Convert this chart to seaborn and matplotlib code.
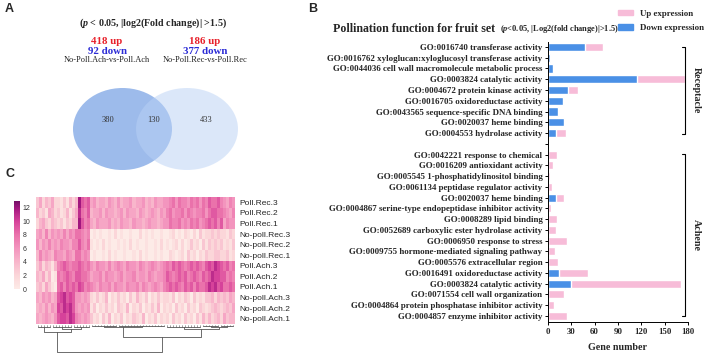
import numpy as np
import pandas as pd
import matplotlib
matplotlib.use("Agg")
import matplotlib.pyplot as plt
import seaborn as sns
from matplotlib.patches import Ellipse, Patch
from matplotlib.colors import LinearSegmentedColormap

# ---------------- Panel A data ----------------
venn_sets = ["No-Poll.Ach-vs-Poll.Ach", "No-Poll.Rec-vs-Poll.Rec"]
venn_up = [418, 186]
venn_down = [92, 377]
venn_counts = [380, 130, 433]  # only Ach, shared, only Rec

# ---------------- Panel B data ----------------
go_receptacle = [
    "GO:0016740 transferase activity",
    "GO:0016762 xyloglucan:xyloglucosyl transferase activity",
    "GO:0044036 cell wall macromolecule metabolic process",
    "GO:0003824 catalytic activity",
    "GO:0004672 protein kinase activity",
    "GO:0016705 oxidoreductase activity",
    "GO:0043565 sequence-specific DNA binding",
    "GO:0020037 heme binding",
    "GO:0004553 hydrolase activity",
]
down_receptacle = [47, 2, 6, 114, 26, 19, 13, 20, 10]
up_receptacle = [24, 1, 0, 62, 13, 1, 0, 2, 13]

go_achene = [
    "GO:0042221 response to chemical",
    "GO:0016209 antioxidant activity",
    "GO:0005545 1-phosphatidylinositol binding",
    "GO:0061134 peptidase regulator activity",
    "GO:0020037 heme binding",
    "GO:0004867 serine-type endopeptidase inhibitor activity",
    "GO:0008289 lipid binding",
    "GO:0052689 carboxylic ester hydrolase activity",
    "GO:0006950 response to stress",
    "GO:0009755 hormone-mediated signaling pathway",
    "GO:0005576 extracellular region",
    "GO:0016491 oxidoreductase activity",
    "GO:0003824 catalytic activity",
    "GO:0071554 cell wall organization",
    "GO:0004864 protein phosphatase inhibitor activity",
    "GO:0004857 enzyme inhibitor activity",
]
down_achene = [0, 0, 0, 0, 10, 0, 0, 0, 0, 0, 0, 14, 30, 0, 0, 0]
up_achene = [11, 7, 3, 5, 11, 4, 11, 10, 25, 9, 13, 38, 141, 20, 8, 24]
gene_ticks = [0, 30, 60, 90, 120, 150, 180]

# ---------------- Panel C data ----------------
samples = ["Poll.Rec.3", "Poll.Rec.2", "Poll.Rec.1",
           "No-poll.Rec.3", "No-poll.Rec.2", "No-poll.Rec.1",
           "Poll.Ach.3", "Poll.Ach.2", "Poll.Ach.1",
           "No-poll.Ach.3", "No-poll.Ach.2", "No-poll.Ach.1"]
# expression levels per gene column (hex digits, 0..c)
heat_rows = [
    "3524352" "213142" "4" "c989" "5645546546455645564546556" "67868776878687" "98897" "6576",
    "4231542" "312413" "5" "b879" "4556465545646554654565465" "78677868767786" "89988" "7657",
    "2453243" "231324" "4" "c978" "5465556454655465545655456" "68778676878678" "98979" "5766",
    "5647465" "657576" "8" "8767" "0101001020100100201010010" "01201021020312" "23232" "2132",
    "6465756" "576657" "7" "9768" "1010201001010201001001020" "10120201312031" "32323" "1213",
    "4756547" "665765" "8" "8676" "0100102010010010201001010" "02101203120213" "22332" "2312",
    "3524314" "789878" "8" "9878" "6576657567657665765676567" "87989878989879" "a9ba9" "8978",
    "4352401" "878987" "9" "9887" "5667576656756675665765667" "98789897898798" "9baa9" "9787",
    "3425310" "897989" "8" "a978" "7657667576657667576567657" "89898798979889" "bab9a" "8898",
    "5465645" "9ab9a9" "6" "6565" "2131240213120314213021312" "21302132031213" "34243" "4354",
    "4546465" "a9bab9" "6" "5656" "1302131203214021302131402" "12031203120321" "23432" "3435",
    "5456546" "9aa9ba" "7" "6565" "3120314021302132140213021" "20312031203142" "42342" "5344",
]
cbar_ticks = [0, 2, 4, 6, 8, 10, 12]
# column dendrogram: [height, left, right]; leaf groups (height, first_col, last_col)
col_tree = [26,
            [6.5, (2.2, 0, 4), [3.5, (1.5, 5, 11), (1.5, 12, 17)]],
            [11, [1.8, (1.0, 18, 26), (1.2, 27, 42)],
                 [4.2, (1.5, 43, 54), [2.2, (1.0, 55, 60), (0.8, 61, 65)]]]]

# ---------------- Styling ----------------
sns.set_style("ticks")
plt.rcParams["font.family"] = ["Liberation Serif", "DejaVu Serif"]
plt.rcParams["mathtext.fontset"] = "custom"
plt.rcParams["mathtext.it"] = "Liberation Serif:italic:bold"
plt.rcParams["mathtext.rm"] = "Liberation Serif:bold"
plt.rcParams["mathtext.bf"] = "Liberation Serif:bold"

W, H = 708, 356
PINK = "#f7bcd8"
BLUE = "#4a90e6"
SANS = ["Liberation Sans", "DejaVu Sans"]

fig = plt.figure(figsize=(W / 100, H / 100), dpi=100)


def px_axes(x0, y0, x1, y1):
    return fig.add_axes([x0 / W, 1 - y1 / H, (x1 - x0) / W, (y1 - y0) / H])


# ---------------- Panel A (pixel overlay) ----------------
ov = fig.add_axes([0, 0, 1, 1])
ov.set_xlim(0, W)
ov.set_ylim(H, 0)
ov.axis("off")
ov.patch.set_alpha(0)

ov.add_patch(Ellipse((122.5, 129), 99, 82, facecolor="#9dbbeb", edgecolor="none"))
ov.add_patch(Ellipse((187, 129), 102, 82, facecolor=(0.726, 0.82, 0.96), alpha=0.5,
                     edgecolor="none"))
for xx, val in zip([108, 154, 206], venn_counts):
    ov.text(xx, 120, str(val), ha="center", va="center", fontsize=6, color="#333333")

ov.text(5, 3, "A", ha="left", va="top", fontsize=9, fontweight="bold", family=SANS)
ov.text(308, 3, "B", ha="left", va="top", fontsize=9, fontweight="bold", family=SANS)
ov.text(5, 168, "C", ha="left", va="top", fontsize=9, fontweight="bold", family=SANS)

ov.text(153, 23, r"($p$ < 0.05, |log2(Fold change)| >1.5)", ha="center", va="center",
        fontsize=7.2, fontweight="bold")
for cx, lab, up, dn in zip([107, 205], venn_sets, venn_up, venn_down):
    ov.text(cx, 41, f"{up} up", ha="center", va="center", fontsize=7.8,
            fontweight="bold", color="#e8202a")
    ov.text(cx, 52, f"{dn} down", ha="center", va="center", fontsize=7.8,
            fontweight="bold", color="#2b2bd6")
    ov.text(cx, 60, lab, ha="center", va="center", fontsize=6, color="#222222")

# ---------------- Panel B ----------------
labels_B = go_receptacle + [""] + go_achene
down_B = down_receptacle + [0] + down_achene
up_B = up_receptacle + [0] + up_achene
n = len(labels_B)
dfB = pd.DataFrame({"key": [f"k{i}" for i in range(n)],
                    "down": down_B,
                    "total": np.add(down_B, up_B)})

axB = px_axes(548, 42, 688, 322)
sns.barplot(data=dfB, x="total", y="key", orient="h", color=PINK, saturation=1,
            width=0.75, errorbar=None, ax=axB)
sns.barplot(data=dfB, x="down", y="key", orient="h", color=BLUE, saturation=1,
            width=0.75, errorbar=None, ax=axB)
axB.set_xlim(0, 180)
axB.set_ylim(n - 1 + 0.56, -0.46)
axB.set_xticks(gene_ticks)
axB.set_xticklabels([str(t) for t in gene_ticks], fontsize=6.3, fontweight="bold")
axB.set_yticks(range(n))
axB.set_yticklabels(labels_B, fontsize=6.4, fontweight="bold")
axB.set_ylabel("")
axB.set_xlabel("Gene number", fontsize=7.2, fontweight="bold", labelpad=5)
axB.tick_params(axis="both", length=2.5, width=0.7, pad=1.5, color="black")
for s in ["top", "right"]:
    axB.spines[s].set_visible(False)
for s in ["left", "bottom"]:
    axB.spines[s].set_linewidth(0.7)
    axB.spines[s].set_color("black")

nr = len(go_receptacle)
xb, stub = 176, 4
groups = [("Receptacle", 0, nr - 1 + 0.1), ("Achene", nr + 1 - 0.05, n - 1)]
for name, y0, y1 in groups:
    axB.plot([xb - stub, xb, xb, xb - stub], [y0, y0, y1, y1], color="black",
             lw=0.8, clip_on=False)
    axB.text(xb + 15, (y0 + y1) / 2, name, rotation=-90, ha="center", va="center",
             fontsize=7.2, fontweight="bold", clip_on=False)

ov.text(333, 29, "Pollination function for fruit set", ha="left", va="center",
        fontsize=8.6, fontweight="bold")
ov.text(500, 29, r"($p$<0.05, |Log2(fold change)|>1.5)", ha="left", va="center",
        fontsize=6.0, fontweight="bold")
fig.legend(handles=[Patch(color=PINK, label="Up expression"),
                    Patch(color=BLUE, label="Down expression")],
           loc="upper right", bbox_to_anchor=(1.0, 0.985), frameon=False,
           prop={"family": "Liberation Serif", "weight": "bold", "size": 6.4},
           handlelength=1.7, handleheight=0.6, labelspacing=0.7, handletextpad=0.7,
           borderaxespad=0.1)

# ---------------- Panel C ----------------
mat = np.array([[int(ch, 16) for ch in row] for row in heat_rows], dtype=float)
dfC = pd.DataFrame(mat, index=samples)
cmap = LinearSegmentedColormap.from_list(
    "pinkpurple",
    [(0 / 13, "#fdebe7"), (2 / 13, "#fbd6d9"), (4 / 13, "#f8b6cb"), (6 / 13, "#f395be"),
     (8 / 13, "#ea72ab"), (10 / 13, "#d6429a"), (12 / 13, "#a2167f"), (1.0, "#741067")])

axC = px_axes(36, 197, 235, 324)
cax = px_axes(14, 201, 20, 289)
sns.heatmap(dfC, cmap=cmap, vmin=0, vmax=13, ax=axC, cbar_ax=cax,
            xticklabels=False, yticklabels=samples, cbar_kws={"ticks": cbar_ticks})
axC.yaxis.tick_right()
axC.tick_params(axis="y", length=0, pad=3, labelsize=6, rotation=0)
for t in axC.get_yticklabels():
    t.set_family(SANS)
axC.set_ylabel("")
axC.set_xlabel("")
cax.tick_params(length=0, labelsize=5, pad=2)
for t in cax.get_yticklabels():
    t.set_family(SANS)
    t.set_color("#333333")
cb = axC.collections[0].colorbar
if cb is not None:
    cb.outline.set_visible(False)

# dendrogram
axD = px_axes(36, 325, 235, 353)
axD.set_xlim(0, mat.shape[1])
axD.set_ylim(26.6, 0)
axD.axis("off")
DCOL = "#555555"


def draw(node):
    if isinstance(node, tuple):
        h, a, b = node
        xs = np.arange(a, b + 1) + 0.5
        for x in xs:
            axD.plot([x, x], [0, h], color=DCOL, lw=0.4)
        axD.plot([xs[0], xs[-1]], [h, h], color=DCOL, lw=0.6)
        return xs.mean(), h
    h, left, right = node
    xl, hl = draw(left)
    xr, hr = draw(right)
    axD.plot([xl, xl, xr, xr], [hl, h, h, hr], color=DCOL, lw=0.6)
    return (xl + xr) / 2, h


draw(col_tree)

fig.savefig("out.png", dpi=100)
